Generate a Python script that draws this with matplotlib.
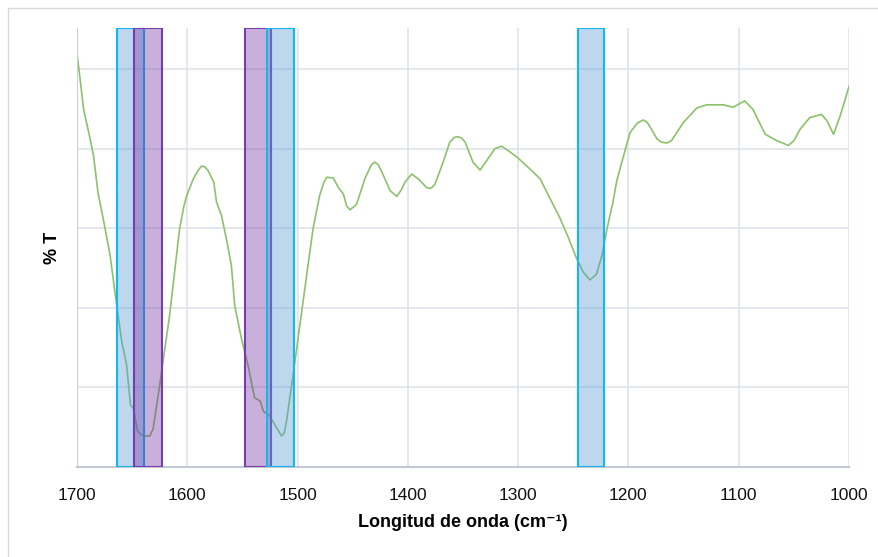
import matplotlib

matplotlib.use("Agg")
import matplotlib.pyplot as plt
from matplotlib.patches import Rectangle

# FTIR spectrum (wavenumber in cm-1, relative %T in grid units)
wavenumber = [
    1700, 1697, 1694, 1689, 1685, 1681, 1675, 1670, 1664, 1659.5, 1655, 1651.5,
    1649, 1645, 1641, 1638, 1634, 1631, 1629, 1625, 1616, 1607, 1603, 1600.5,
    1594.5, 1590, 1587, 1584, 1581, 1576, 1573.5, 1569, 1564, 1560, 1557, 1551,
    1545, 1539, 1534, 1531, 1525, 1519, 1514.5, 1512, 1510, 1504, 1495, 1486,
    1480, 1476, 1473.5, 1467.5, 1463, 1458.5, 1455.5, 1452.5, 1446.5, 1439,
    1433, 1430, 1427, 1424, 1416, 1410, 1406, 1402.5, 1396.5, 1390.5, 1383,
    1379, 1375.5, 1368, 1362, 1358, 1354.5, 1351, 1348, 1341, 1334.5, 1328.5,
    1321, 1315, 1307.5, 1300, 1289, 1280, 1271, 1262.5, 1255, 1247, 1241, 1235,
    1229, 1224, 1219, 1214, 1210.5, 1202, 1198.5, 1192, 1186.5, 1183, 1179,
    1174, 1170, 1165, 1161, 1150, 1138, 1129, 1114, 1105, 1094.5, 1087, 1076,
    1065.5, 1055, 1050, 1044.5, 1035.5, 1025, 1020, 1014, 1008, 1000,
]
transmittance = [
    5.2, 4.85, 4.49, 4.18, 3.91, 3.45, 3.03, 2.66, 2.03, 1.58, 1.28, 0.78,
    0.74, 0.45, 0.40, 0.39, 0.39, 0.48, 0.66, 1.03, 1.91, 2.99, 3.28, 3.41,
    3.62, 3.73, 3.78, 3.77, 3.72, 3.58, 3.33, 3.16, 2.83, 2.53, 2.03, 1.62,
    1.28, 0.87, 0.83, 0.70, 0.64, 0.49, 0.39, 0.43, 0.58, 1.16, 2.08, 2.99,
    3.41, 3.58, 3.64, 3.63, 3.51, 3.43, 3.28, 3.23, 3.30, 3.62,
    3.80, 3.83, 3.80, 3.72, 3.47, 3.40, 3.48, 3.58, 3.68, 3.62, 3.51,
    3.50, 3.55, 3.83, 4.08, 4.14, 4.15, 4.13, 4.08, 3.83, 3.73, 3.85,
    4.00, 4.03, 3.96, 3.88, 3.74, 3.62, 3.37, 3.14, 2.90, 2.62, 2.45, 2.35,
    2.42, 2.66, 3.02, 3.33, 3.60, 4.03, 4.20, 4.32, 4.36, 4.33, 4.24,
    4.12, 4.08, 4.07, 4.10, 4.33, 4.51, 4.55, 4.55, 4.52, 4.60, 4.49, 4.18,
    4.10, 4.04, 4.10, 4.24, 4.39, 4.43, 4.35, 4.18, 4.41, 4.78,
]

# highlighted bands (start, end) in cm-1
blue_bands = [(1664, 1639), (1528, 1503), (1246, 1222)]
purple_bands = [(1648, 1623), (1548, 1524)]

plt.rcParams["font.family"] = ["Liberation Sans Narrow", "Liberation Sans", "DejaVu Sans"]

fig = plt.figure(figsize=(8.79, 5.57), dpi=100)
ax = fig.add_axes([77 / 879, 1 - 467 / 557, 772 / 879, 439 / 557])

ax.plot(wavenumber, transmittance, color="#8cc26a", linewidth=1.2, zorder=2)

blue_face = (0.357, 0.608, 0.835, 0.4)
purple_face = (0.439, 0.188, 0.627, 0.38)
ax.axvspan(blue_bands[0][1], blue_bands[0][0], facecolor=blue_face,
           edgecolor="#12b8f0", linewidth=1.5, zorder=3)
for lo, hi in purple_bands:
    ax.axvspan(hi, lo, facecolor=purple_face, edgecolor="#7a3db0",
               linewidth=1.5, zorder=3)
for lo, hi in blue_bands[1:]:
    ax.axvspan(hi, lo, facecolor=blue_face, edgecolor="#12b8f0",
               linewidth=1.5, zorder=3)

ax.set_xlim(1700, 1000)
ax.set_ylim(0, 5.515)
ax.set_xticks(range(1700, 999, -100))
ax.set_yticks([1, 2, 3, 4, 5])
ax.set_yticklabels([])
ax.tick_params(axis="x", length=0, labelsize=12.5, pad=15, colors="#111111")
ax.tick_params(axis="y", length=0)
ax.grid(True, color="#dde2ea", linewidth=1.1, zorder=0)
ax.set_axisbelow(True)

for side in ("top", "right"):
    ax.spines[side].set_visible(False)
ax.spines["left"].set_color("#c9cfd8")
ax.spines["bottom"].set_color("#c3c9d2")
ax.spines["bottom"].set_linewidth(1.5)

ax.set_xlabel("Longitud de onda (cm⁻¹)", fontsize=13, fontweight="bold",
              labelpad=8, family=["Liberation Sans", "DejaVu Sans"])
ax.set_ylabel("% T", fontsize=13, fontweight="bold", labelpad=8)

# light frame around the chart area
fig.patches.append(Rectangle((8 / 879, -0.01), 2, 1 - 8 / 557 + 0.01,
                             transform=fig.transFigure, fill=False,
                             edgecolor="#d9d9d9", linewidth=1))

fig.savefig("out.png", dpi=100)
